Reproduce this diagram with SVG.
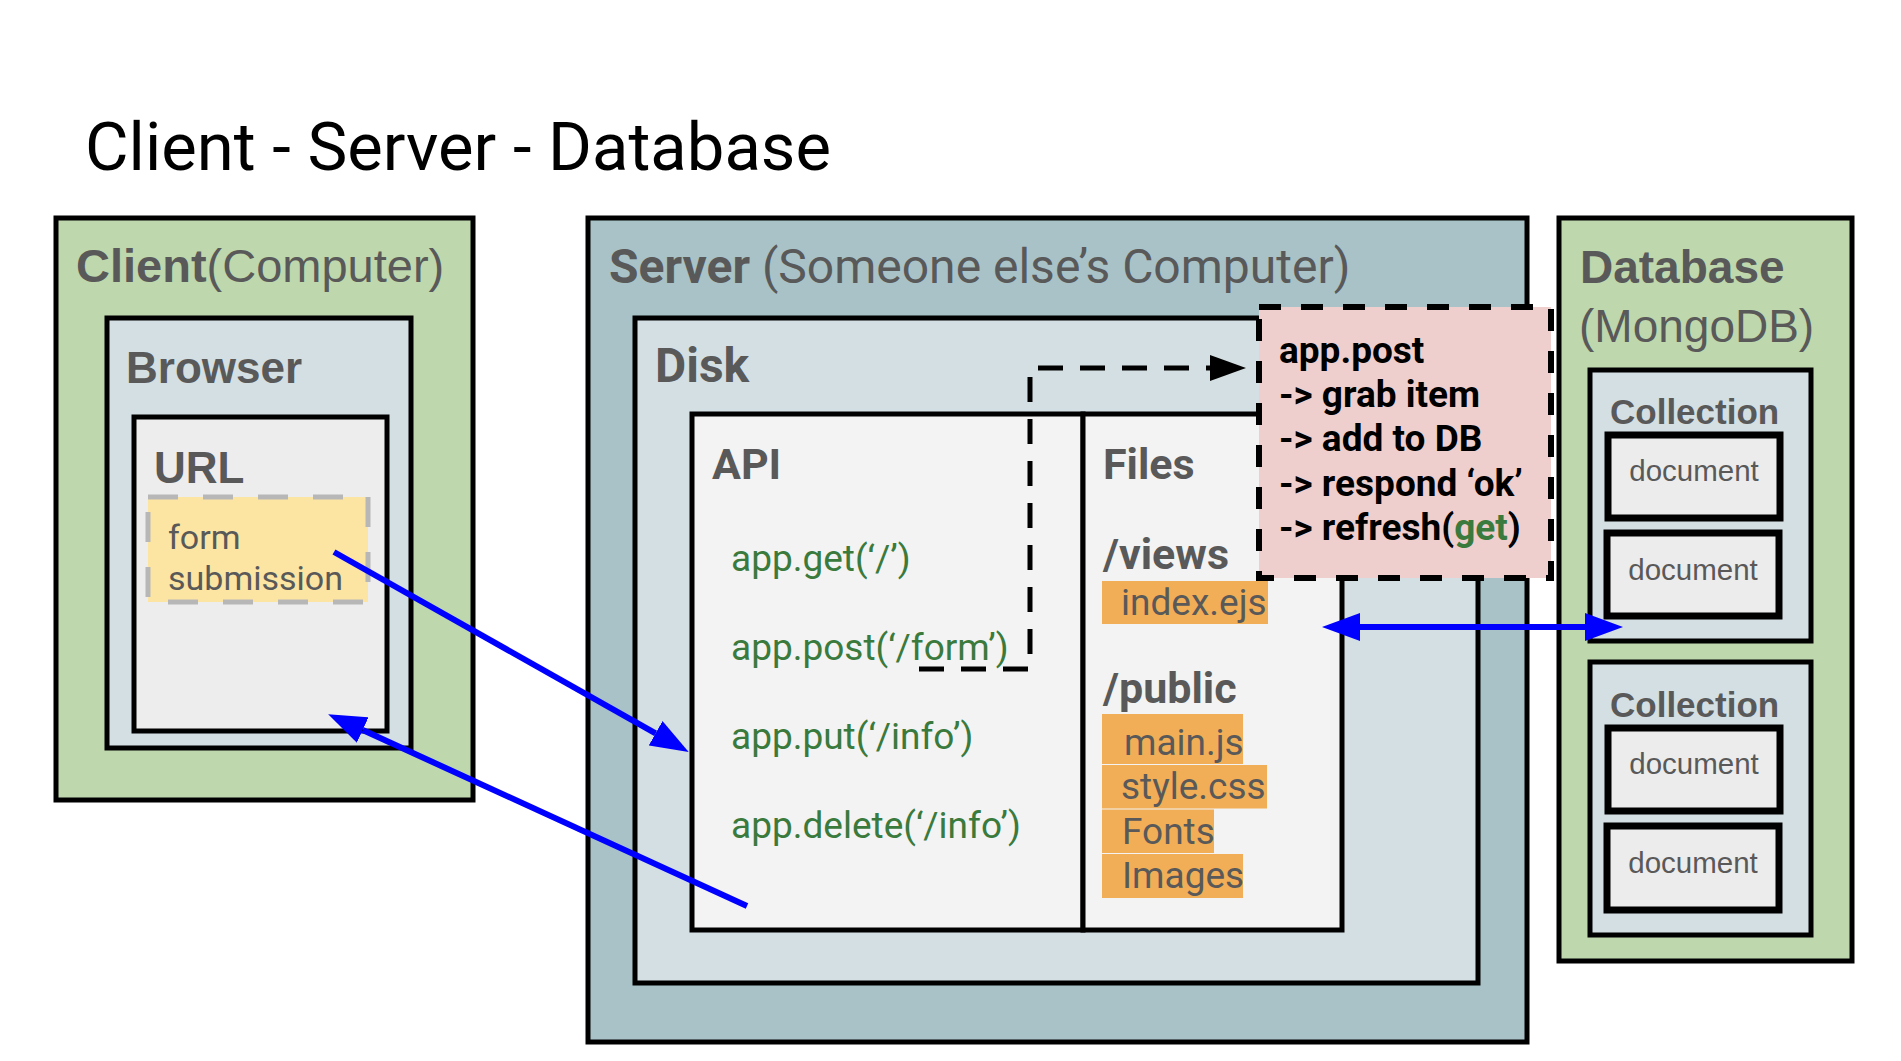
<svg xmlns="http://www.w3.org/2000/svg" width="1901" height="1061" viewBox="0 0 1901 1061">
<defs>
<style>
.box{stroke:#000;stroke-width:5;stroke-linejoin:miter}
.doc{fill:#ececec;stroke:#000;stroke-width:7}
.lightblue{fill:#d4dfe3}
.ro{font-family:Roboto,"Liberation Sans",sans-serif}
.ar{font-family:"Liberation Sans",Arial,sans-serif}
.gray{fill:#595959}
.green{fill:#3a7a3c}
.b{font-weight:bold}
.orange{fill:#f1ae57}
.fn{font-size:37px}
.blue{fill:none;stroke:#0000ff;stroke-width:6}
.dash{fill:none;stroke:#000;stroke-width:5;stroke-dasharray:25 17}
</style>
<marker id="blueHead" markerUnits="userSpaceOnUse" markerWidth="38" markerHeight="28" refX="0" refY="14" orient="auto-start-reverse" viewBox="0 0 38 28">
<path d="M0,0 L38,14 L0,28 z" fill="#0000ff"/>
</marker>
<marker id="blackHead" markerUnits="userSpaceOnUse" markerWidth="36" markerHeight="26" refX="0" refY="13" orient="auto" viewBox="0 0 36 26">
<path d="M0,0 L36,13 L0,26 z" fill="#000"/>
</marker>
</defs>
<rect width="1901" height="1061" fill="#fff"/>

<g id="title">
<text x="85" y="170" class="ro" font-size="67" fill="#000">Client - Server - Database</text>
</g>

<g id="client">
<rect class="box" x="56" y="218" width="417" height="582" fill="#bed7ad"/>
<text x="76" y="282" class="ar gray" font-size="47"><tspan class="b">Client</tspan>(Computer)</text>
</g>
<g id="browser">
<rect class="box lightblue" x="107" y="318" width="304" height="430"/>
<text x="126" y="383" class="ar gray b" font-size="44">Browser</text>
</g>
<g id="url">
<rect class="box" x="134" y="417" width="253" height="314" fill="#ededed"/>
<text x="154" y="483" class="ar gray b" font-size="44">URL</text>
</g>
<g id="form-submission">
<rect x="148" y="497" width="220" height="105" fill="#fce5a2" stroke="#b7b7b7" stroke-width="5" stroke-dasharray="30 25"/>
<text class="ro gray" font-size="34"><tspan x="168" y="549">form</tspan><tspan x="168" y="590">submission</tspan></text>
</g>

<g id="server">
<rect class="box" x="588" y="218" width="939" height="824" fill="#a9c2c7"/>
<text x="609" y="283" class="ro gray" font-size="48"><tspan class="b">Server</tspan> (Someone else’s Computer)</text>
</g>
<g id="disk">
<rect class="box lightblue" x="635" y="318" width="843" height="665"/>
<text x="655" y="382" class="ro gray b" font-size="48">Disk</text>
</g>
<g id="api">
<rect class="box" x="692" y="414" width="391" height="516" fill="#f3f3f3"/>
<text x="712" y="479" class="ro gray b" font-size="43">API</text>
<text x="731" y="571" class="ro green fn">app.get(‘/’)</text>
<text x="731" y="660" class="ro green fn">app.post(‘/form’)</text>
<text x="731" y="749" class="ro green fn">app.put(‘/info’)</text>
<text x="731" y="838" class="ro green fn">app.delete(‘/info’)</text>
</g>
<g id="files">
<rect class="box" x="1083" y="414" width="259" height="516" fill="#f3f3f3"/>
<text x="1103" y="479" class="ro gray b" font-size="43">Files</text>
<text x="1103" y="569" class="ro gray b" font-size="43">/views</text>
<rect class="orange" x="1102" y="581" width="166" height="43"/>
<text x="1121" y="615" class="ro gray fn">index.ejs</text>
<text x="1103" y="703" class="ro gray b" font-size="43">/public</text>
<rect class="orange" x="1102" y="714" width="141" height="50"/>
<rect class="orange" x="1102" y="765" width="165" height="43.5"/>
<rect class="orange" x="1102" y="809.5" width="112" height="43.5"/>
<rect class="orange" x="1102" y="854" width="141" height="44"/>
<text x="1124" y="755" class="ro gray fn">main.js</text>
<text x="1121" y="799" class="ro gray fn">style.css</text>
<text x="1122" y="844" class="ro gray fn">Fonts</text>
<text x="1122" y="888" class="ro gray fn">Images</text>
</g>

<g id="database">
<rect class="box" x="1559" y="218" width="293" height="743" fill="#bed7ad"/>
<text x="1580" y="283" class="ar gray b" font-size="46">Database</text>
<text x="1579" y="342" class="ar gray" font-size="46">(MongoDB)</text>
</g>
<g id="collection-1">
<rect class="box lightblue" x="1590" y="370" width="221" height="271"/>
<text x="1610" y="424" class="ar gray b" font-size="35">Collection</text>
<rect class="doc" x="1608" y="435" width="172" height="83"/>
<text x="1694" y="480.5" class="ar gray" font-size="29.5" text-anchor="middle">document</text>
<rect class="doc" x="1607" y="533" width="172" height="83"/>
<text x="1693" y="579.5" class="ar gray" font-size="29.5" text-anchor="middle">document</text>
</g>
<g id="collection-2">
<rect class="box lightblue" x="1590" y="662" width="221" height="273"/>
<text x="1610" y="717" class="ar gray b" font-size="35">Collection</text>
<rect class="doc" x="1608" y="728" width="172" height="83"/>
<text x="1694" y="773.5" class="ar gray" font-size="29.5" text-anchor="middle">document</text>
<rect class="doc" x="1607" y="826" width="172" height="84"/>
<text x="1693" y="872.5" class="ar gray" font-size="29.5" text-anchor="middle">document</text>
</g>

<g id="connectors">
<path class="dash" d="M919 669 H1030 V368 H1210" marker-end="url(#blackHead)"/>
<path class="blue" d="M334 552 L655.6 733.3" marker-end="url(#blueHead)"/>
<path class="blue" d="M747 906 L362.7 730" marker-end="url(#blueHead)"/>
<path class="blue" d="M1360 627 L1585 627" marker-start="url(#blueHead)" marker-end="url(#blueHead)"/>
</g>

<g id="app-post-note">
<rect x="1259" y="307" width="292" height="271" fill="#eecfce" stroke="#000" stroke-width="6" stroke-dasharray="22 20"/>
<text class="ro b" font-size="37" fill="#000">
<tspan x="1279" y="363">app.post</tspan>
<tspan x="1279" y="407">-&gt; grab item</tspan>
<tspan x="1279" y="451">-&gt; add to DB</tspan>
<tspan x="1279" y="495.5">-&gt; respond ‘ok’</tspan>
<tspan x="1279" y="540">-&gt; refresh(<tspan class="green">get</tspan>)</tspan>
</text>
</g>
</svg>
